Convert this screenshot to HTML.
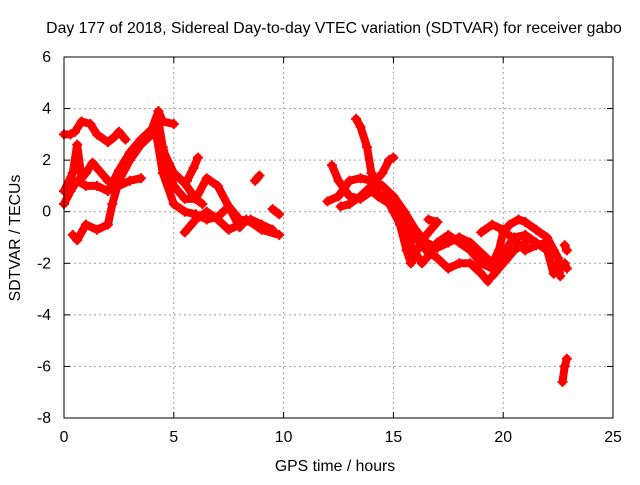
<!DOCTYPE html>
<html><head><meta charset="utf-8">
<style>
body{margin:0;background:#fff;}
svg text{font-family:"Liberation Sans",sans-serif;font-size:15.8px;fill:#000;}
</style></head>
<body>
<svg id="chart" width="640" height="480" xmlns="http://www.w3.org/2000/svg">
<rect width="640" height="480" fill="#fff"/>
<g id="grid"></g>
<g id="series"></g>
<rect x="64" y="57" width="549" height="361" fill="none" stroke="#000" stroke-width="1"/>
<g id="ticks"></g>
<text x="334" y="33" text-anchor="middle">Day 177 of 2018, Sidereal Day-to-day VTEC variation (SDTVAR) for receiver gabo</text>
<text x="335" y="471" text-anchor="middle">GPS time / hours</text>
<text x="20" y="238" text-anchor="middle" transform="rotate(-90 20 238)">SDTVAR / TECUs</text>
</svg>
<script>
const xTicks=[0,5,10,15,20,25];
const yTicks=[-8,-6,-4,-2,0,2,4,6];
const trackA=[[0,3.0],[0.3,3.0],[0.5,3.1],[0.8,3.5],[1.2,3.4],[1.5,3.0],[2.0,2.7],[2.3,2.9],[2.5,3.1],[2.8,2.8]];
const trackB=[[0,0.3],[0.3,0.8],[0.6,1.2],[1.0,1.0],[1.5,1.0],[2.0,0.8],[2.5,1.6],[3.0,2.3],[3.5,2.8],[4.0,3.2],[4.3,3.9],[4.5,3.5],[5.0,3.4]];
const trackC=[[0,0.8],[0.4,1.5],[0.6,2.6],[0.8,1.3],[1.0,1.5],[1.3,1.9],[1.6,1.6],[2.0,1.2],[2.5,1.0],[3.0,1.2],[3.5,1.3]];
const trackD=[[0.4,-0.9],[0.6,-1.1],[1.0,-0.5],[1.5,-0.7],[2.0,-0.5],[2.2,0.3],[2.5,1.2],[3.0,2.0],[3.5,2.6],[4.0,3.0],[4.3,3.5],[4.5,2.5],[5.0,1.0],[5.5,0.5],[6.0,0.5],[6.5,1.3],[7.0,1.0],[7.5,0.2],[8.0,-0.3],[8.5,-0.4],[9.0,-0.7],[9.8,-0.9]];
const trackE=[[4.2,3.0],[4.5,1.5],[5.0,0.3],[5.5,0.0],[6.0,-0.1],[6.5,-0.3],[7.0,-0.2],[7.5,0.2],[8.0,-0.6],[8.3,-0.3]];
const trackF=[[5.5,-0.8],[6.0,-0.3],[6.5,0.0],[7.0,-0.3],[7.5,-0.7],[8.0,-0.5],[8.5,-0.3],[9.0,-0.5],[9.5,-0.7]];
const trackG=[[4.5,2.4],[5.0,1.5],[5.5,1.1],[6.0,0.5],[6.3,0.3]];
const trackG2=[[5.6,1.2],[5.9,1.7],[6.1,2.1]];
const trackS1=[[8.7,1.2],[8.9,1.4]];
const trackS2=[[9.5,0.1],[9.8,-0.1]];
const trackH=[[12.0,0.4],[12.5,0.6],[13.0,1.2],[13.5,1.3],[14.0,1.2],[14.5,1.0],[15.0,0.6],[15.5,0.0],[16.0,-0.7],[16.5,-1.2],[17.0,-1.4],[17.5,-1.2],[18.0,-1.0]];
const trackI=[[12.2,1.8],[12.5,1.2],[13.0,0.6],[13.5,0.5],[14.0,0.8],[14.3,0.6],[15.0,0.2],[15.5,-0.5],[16.0,-1.0],[16.5,-1.5],[17.0,-1.8],[17.5,-2.2],[18.0,-2.0],[18.5,-2.0],[19.0,-2.4],[19.3,-2.7]];
const trackJ=[[13.3,3.6],[13.5,3.3],[13.8,2.5],[14.0,1.5],[14.3,0.7],[14.7,0.5],[15.0,0.0],[15.5,-0.8],[16.0,-1.6],[16.3,-2.0],[16.5,-1.8],[17.0,-1.2],[17.5,-0.9],[18.0,-1.2],[18.5,-1.5],[19.0,-2.0],[19.5,-2.2],[20.0,-1.6],[20.5,-1.0],[21.0,-0.9],[21.5,-1.2],[22.0,-1.5],[22.3,-2.4]];
const trackK=[[12.6,0.2],[13.0,0.3],[13.5,0.6],[14.0,1.0],[14.5,1.5],[14.8,2.0],[15.0,2.1]];
const trackL=[[15.3,-0.5],[15.6,-1.5],[15.8,-2.0],[16.0,-1.6],[16.5,-0.9],[17.0,-0.4],[16.6,-0.3]];
const trackM=[[18.0,-1.0],[18.5,-1.2],[19.0,-1.6],[19.5,-2.0],[19.8,-1.5],[20.0,-0.8],[20.3,-0.5],[20.7,-0.3],[21.0,-0.4],[21.5,-0.7],[22.0,-1.0],[22.5,-1.8],[22.6,-2.5]];
const trackN=[[19.0,-0.8],[19.5,-0.5],[20.0,-0.7],[20.5,-1.1],[21.0,-1.5],[21.5,-1.3],[22.0,-1.2],[22.3,-1.5]];
const trackO1=[[22.8,-1.3],[22.9,-1.5]];
const trackO2=[[22.8,-2.0],[22.9,-2.2]];
const trackP=[[22.7,-6.6],[22.8,-6.0],[22.9,-5.7]];
const trackQ=[[19.5,-2.5],[20.0,-2.0],[20.5,-1.5],[21.0,-1.2]];
const tracks=[trackA,trackB,trackC,trackD,trackE,trackF,trackG,trackG2,trackS1,trackS2,trackH,trackI,trackJ,trackK,trackL,trackM,trackN,trackO1,trackO2,trackP,trackQ];

const X0=64,X1=613,Y0=418,Y1=57,xMin=0,xMax=25,yMin=-8,yMax=6;
const sx=v=>X0+(v-xMin)/(xMax-xMin)*(X1-X0);
const sy=v=>Y0-(v-yMin)/(yMax-yMin)*(Y0-Y1);
const NS="http://www.w3.org/2000/svg";
const grid=document.getElementById('grid'),ticks=document.getElementById('ticks'),ser=document.getElementById('series');
function mk(tag,attrs,parent){const e=document.createElementNS(NS,tag);for(const k in attrs)e.setAttribute(k,attrs[k]);parent.appendChild(e);return e;}
xTicks.forEach(t=>{const x=sx(t);
 if(t>xMin&&t<xMax){const g=mk('line',{x1:x,x2:x,y1:Y1,y2:Y0,stroke:'#a0a0a0','stroke-dasharray':'2,3'},grid);
 
 }
 mk('line',{x1:x,x2:x,y1:Y0,y2:Y0-6,stroke:'#000'},ticks);mk('line',{x1:x,x2:x,y1:Y1,y2:Y1+6,stroke:'#000'},ticks);
 const l=mk('text',{x:x,y:Y0+24,'text-anchor':'middle'},ticks);l.textContent=t;
 
 });
yTicks.forEach(t=>{const y=sy(t);
 if(t>yMin&&t<yMax){const g=mk('line',{x1:X0,x2:X1,y1:y,y2:y,stroke:'#a0a0a0','stroke-dasharray':'2,3'},grid);
 
 }
 mk('line',{x1:X0,x2:X0+6,y1:y,y2:y,stroke:'#000'},ticks);mk('line',{x1:X1,x2:X1-6,y1:y,y2:y,stroke:'#000'},ticks);
 const l=mk('text',{x:X0-13,y:y+5,'text-anchor':'end'},ticks);l.textContent=t;
 
 });
tracks.forEach((tr,i)=>{
 const pl=mk('polyline',{points:tr.map(p=>sx(p[0])+','+sy(p[1])).join(' '),fill:'none',stroke:'#ff0000','stroke-width':8,'stroke-linejoin':'round','stroke-linecap':'round'},ser);
 
 
 tr.forEach(p=>{const x=sx(p[0]),y=sy(p[1]);
  const m=mk('path',{d:`M${x-5},${y}H${x+5}M${x},${y-5}V${y+5}`,stroke:'#ff0000','stroke-width':2},ser);
  
  });
});
</script>
</body></html>
